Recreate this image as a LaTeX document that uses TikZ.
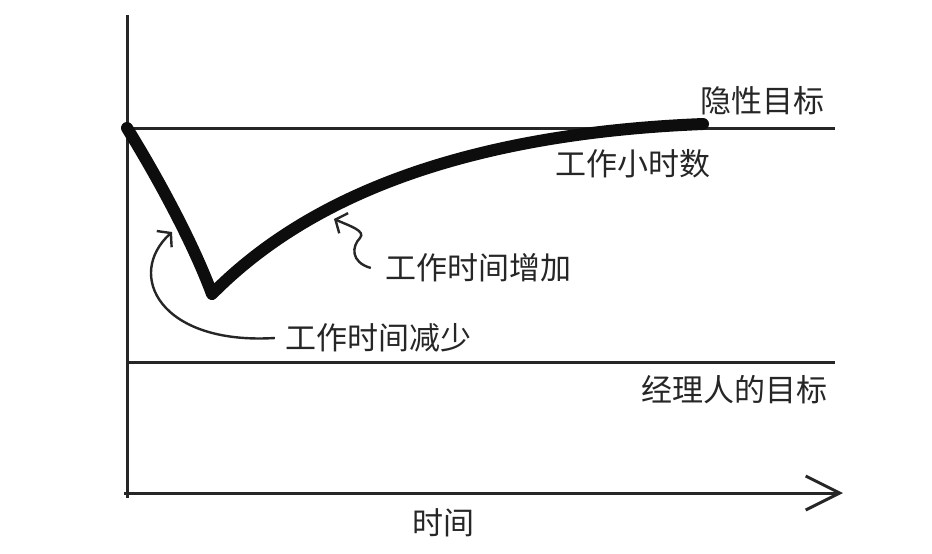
\documentclass[tikz,border=0pt]{standalone}
\usepackage{fontspec}
\newfontfamily\cjk{Noto Sans CJK SC}
\usepackage{tikz}
\usetikzlibrary{arrows.meta,positioning}
\tikzset{>={Straight Barb[length=9pt,width=22pt]},
         axisline/.style={line width=3pt,black!85},
         hoursline/.style={line width=12pt,black!95,line cap=round,line join=round},
         pointer/.style={line width=2.4pt,black!85,->}}
\tikzstyle{labeled}=[font=\cjk\fontsize{31}{36}\selectfont,
   text=black!85, inner sep=0pt]
\begin{document}
\begin{tikzpicture}[x=1pt,y=-1pt]
  \useasboundingbox (0,0) rectangle (932,554);
  \coordinate (ytop) at (127,15);
  \coordinate (ybot) at (127,498);
  \coordinate (orig) at (124,493);
  \coordinate (xend) at (843,493);
  \coordinate (start) at (127,128);
  \coordinate (hidend) at (835,128);
  \coordinate (mgr) at (127,362);
  \coordinate (mgrend) at (835,362);
  \coordinate (low) at (212,294);
  \coordinate (top) at (703,124);
  \coordinate (incrtip) at (334,219);
  \coordinate (decrtip) at (172,232);
  % axes and goal lines
  \draw[axisline] (ytop) -- (ybot);
  \draw[axisline,-{Straight Barb[length=34pt,width=34pt]}] (orig) -- (xend);
  \draw[axisline] (start) -- (hidend);
  \draw[axisline] (mgr) -- (mgrend);
  % working hours
  \draw[hoursline] (start) .. controls (150,165) and (190,235) .. (low)
     .. controls (290,215) and (430,135) .. (top);
  % labels
  \node[labeled] (hidgoal) at (762,101) {隐性目标};
  \node[labeled] (hours) at (633,164) {工作小时数};
  \node[labeled] (incr) at (478,268) {工作时间增加};
  \node[labeled] (decr) at (378,338) {工作时间减少};
  \node[labeled] (mgrgoal) at (734,390) {经理人的目标};
  \node[labeled] (timelbl) at (443,523) {时间};
  \coordinate[left=14pt of incr.west] (incrfoot);
  \coordinate[left=10pt of decr.west] (decrfoot);
  \draw[pointer] (incrfoot) .. controls (350,262) and (352,246) .. (360,238)
     .. controls (366,231) and (350,226) .. (incrtip);
  \draw[pointer] (decrfoot) .. controls (160,345) and (125,275) .. (decrtip);
\end{tikzpicture}
\end{document}
